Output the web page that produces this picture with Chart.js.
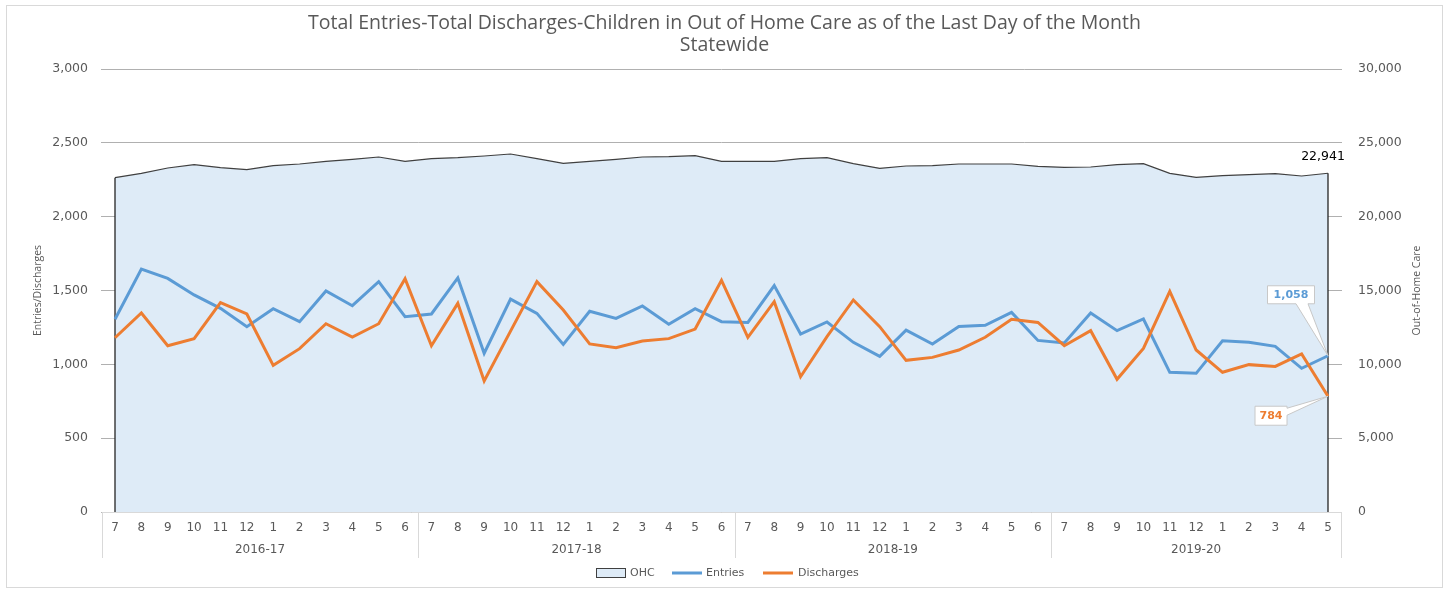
<!DOCTYPE html>
<html>
<head>
<meta charset="utf-8">
<script src="https://cdn.jsdelivr.net/npm/chart.js@4.4.1/dist/chart.umd.min.js"></script>
<style>
    body { margin: 0; background: #fff; }
    canvas { display: block; }
</style>
</head>
<body>
<canvas id="grafico" width="1449" height="590"></canvas>
<script>
// months of each fiscal year (July..June)
const meses = [
    '7', '8', '9', '10', '11', '12', '1', '2', '3', '4', '5', '6',
    '7', '8', '9', '10', '11', '12', '1', '2', '3', '4', '5', '6',
    '7', '8', '9', '10', '11', '12', '1', '2', '3', '4', '5', '6',
    '7', '8', '9', '10', '11', '12', '1', '2', '3', '4', '5'
]
const anos = ['2016-17', '2017-18', '2018-19', '2019-20']
const mesesPorAno = [12, 12, 12, 11]

const entradas = [
    1305, 1645, 1582, 1470, 1379, 1255, 1377, 1289, 1497, 1397, 1560, 1323,
    1341, 1585, 1075, 1442, 1345, 1135, 1359, 1311, 1395, 1271, 1377, 1289,
    1284, 1533, 1205, 1287, 1149, 1054, 1232, 1138, 1257, 1264, 1352, 1162,
    1145, 1348, 1228, 1307, 946, 939, 1160, 1149, 1122, 973, 1058
]
const saidas = [
    1180, 1348, 1126, 1174, 1418, 1341, 993, 1106, 1275, 1185, 1275, 1580,
    1126, 1413, 887, 1225, 1560, 1368, 1138, 1113, 1158, 1174, 1239, 1569,
    1183, 1424, 916, 1187, 1436, 1255, 1027, 1047, 1097, 1183, 1305, 1284,
    1126, 1228, 899, 1108, 1494, 1097, 946, 998, 986, 1070, 784
]
const ohc = [
    22640, 22935, 23295, 23520, 23316, 23180, 23451, 23566, 23749, 23884, 24040, 23749,
    23925, 23996, 24108, 24243, 23925, 23610, 23749, 23884, 24040, 24060, 24130, 23749,
    23749, 23749, 23925, 23996, 23587, 23272, 23431, 23451, 23566, 23566, 23566, 23407,
    23340, 23363, 23520, 23587, 22935, 22660, 22775, 22845, 22910, 22754, 22941
]

const titulo = ['Total Entries-Total Discharges-Children in Out of Home Care as of the Last Day of the Month', 'Statewide']
const tituloEsquerda = 'Entries/Discharges'
const tituloDireita = 'Out-of-Home Care'

const azul = '#5b9bd5'
const laranja = '#ed7d31'
const cinzaTexto = '#595959'
const preenchimento = '#deebf7'
const fonteNumeros = 'DejaVu Sans'
const fonteTexto = 'Open Sans'

function formata(v) {
    return v.toLocaleString('en-US')
}

// white box with a wedge pointing at a point
function balao(ctx, px, py, cx, cy, w, h, lado, texto, cor) {
    let l = cx - w / 2, r = cx + w / 2, t = cy - h / 2, b = cy + h / 2
    ctx.beginPath()
    ctx.moveTo(l, t)
    ctx.lineTo(r, t)
    if (lado === 'direita') {
        ctx.lineTo(r, t + 2)
        ctx.lineTo(px, py)
        ctx.lineTo(r, t + 9)
        ctx.lineTo(r, b)
        ctx.lineTo(l, b)
    } else {
        ctx.lineTo(r, b)
        ctx.lineTo(cx + 17, b)
        ctx.lineTo(px, py)
        ctx.lineTo(cx + 5, b)
        ctx.lineTo(l, b)
    }
    ctx.closePath()
    ctx.fillStyle = '#fff'
    ctx.fill()
    ctx.strokeStyle = '#c8c8c8'
    ctx.lineWidth = 1
    ctx.stroke()
    ctx.fillStyle = cor
    ctx.font = 'bold 11px "' + fonteNumeros + '"'
    ctx.textAlign = 'center'
    ctx.textBaseline = 'middle'
    ctx.fillText(texto, cx, cy + 0.5)
}

const moldura = {
    id: 'moldura',
    beforeDraw(chart) {
        let ctx = chart.ctx
        ctx.save()
        ctx.fillStyle = '#fff'
        ctx.fillRect(0, 0, chart.width, chart.height)
        ctx.strokeStyle = '#d9d9d9'
        ctx.lineWidth = 1
        ctx.strokeRect(6.5, 5.5, 1436, 582)
        ctx.restore()
    },
    afterDatasetDraw(chart, args) {
        // closing edges of the OHC area
        if (args.index !== 0) return
        let ctx = chart.ctx
        let pts = args.meta.data
        let base = chart.scales.y2.getPixelForValue(0)
        ctx.save()
        ctx.strokeStyle = '#262626'
        ctx.lineWidth = 1.3
        ctx.beginPath()
        ctx.moveTo(pts[0].x, pts[0].y)
        ctx.lineTo(pts[0].x, base)
        ctx.moveTo(pts[pts.length - 1].x, pts[pts.length - 1].y)
        ctx.lineTo(pts[pts.length - 1].x, base)
        ctx.stroke()
        ctx.restore()
    },
    afterDraw(chart) {
        let ctx = chart.ctx
        let area = chart.chartArea
        let x = chart.scales.x
        ctx.save()

        // title
        ctx.fillStyle = cinzaTexto
        ctx.font = '19.5px "' + fonteTexto + '"'
        ctx.textAlign = 'center'
        ctx.textBaseline = 'middle'
        ctx.fillText(titulo[0], chart.width / 2, 23)
        ctx.fillText(titulo[1], chart.width / 2, 45)

        // axis titles
        let meio = (area.top + area.bottom) / 2
        ctx.font = '10.5px "' + fonteTexto + '"'
        ctx.save()
        ctx.translate(38, meio)
        ctx.rotate(-Math.PI / 2)
        ctx.fillText(tituloEsquerda, 0, 0)
        ctx.restore()
        ctx.save()
        ctx.translate(1417, meio)
        ctx.rotate(-Math.PI / 2)
        ctx.fillText(tituloDireita, 0, 0)
        ctx.restore()

        // two level category table
        let passo = x.getPixelForValue(1) - x.getPixelForValue(0)
        let inicio = x.getPixelForValue(0) - passo / 2
        let fim = x.getPixelForValue(meses.length - 1) + passo / 2
        ctx.strokeStyle = '#d9d9d9'
        ctx.lineWidth = 1
        ctx.beginPath()
        ctx.moveTo(inicio, area.bottom + 0.5)
        ctx.lineTo(fim, area.bottom + 0.5)
        ctx.stroke()
        let indice = 0
        ctx.font = '12px "' + fonteNumeros + '"'
        ctx.fillStyle = cinzaTexto
        anos.forEach((ano, i) => {
            let a = x.getPixelForValue(indice) - passo / 2
            indice += mesesPorAno[i]
            let b = Math.min(x.getPixelForValue(indice) - passo / 2, fim)
            if (i === anos.length - 1) b = fim
            ctx.beginPath()
            ctx.moveTo(Math.round(a) + 0.5, area.bottom)
            ctx.lineTo(Math.round(a) + 0.5, area.bottom + 46)
            ctx.moveTo(Math.round(b) + 0.5, area.bottom)
            ctx.lineTo(Math.round(b) + 0.5, area.bottom + 46)
            ctx.stroke()
            ctx.fillText(ano, (a + b) / 2, area.bottom + 38)
        })

        // legend
        ctx.font = '11px "' + fonteNumeros + '"'
        ctx.textAlign = 'left'
        ctx.fillStyle = preenchimento
        ctx.fillRect(596.5, 568.5, 29, 9)
        ctx.strokeStyle = '#404040'
        ctx.strokeRect(596.5, 568.5, 29, 9)
        ctx.fillStyle = cinzaTexto
        ctx.fillText('OHC', 630, 573)
        ctx.lineWidth = 3
        ctx.strokeStyle = azul
        ctx.beginPath()
        ctx.moveTo(672, 573)
        ctx.lineTo(702, 573)
        ctx.stroke()
        ctx.fillText('Entries', 706, 573)
        ctx.strokeStyle = laranja
        ctx.beginPath()
        ctx.moveTo(763, 573)
        ctx.lineTo(793, 573)
        ctx.stroke()
        ctx.fillText('Discharges', 798, 573)

        // labels on the last month
        let ultimo = meses.length - 1
        let pOhc = chart.getDatasetMeta(0).data[ultimo]
        let pEnt = chart.getDatasetMeta(1).data[ultimo]
        let pSai = chart.getDatasetMeta(2).data[ultimo]
        ctx.fillStyle = '#000'
        ctx.font = '12.5px "' + fonteNumeros + '"'
        ctx.textAlign = 'center'
        ctx.fillText(formata(ohc[ultimo]), pOhc.x - 5, pOhc.y - 16)
        balao(ctx, pEnt.x, pEnt.y, pEnt.x - 37, pEnt.y - 61, 47, 18, 'baixo', formata(entradas[ultimo]), azul)
        balao(ctx, pSai.x, pSai.y, pSai.x - 57, pSai.y + 19.5, 32, 19, 'direita', formata(saidas[ultimo]), laranja)

        ctx.restore()
    }
}

new Chart(document.getElementById('grafico'), {
    type: 'line',
    data: {
        labels: meses,
        datasets: [{
            label: 'OHC',
            data: ohc,
            yAxisID: 'y2',
            fill: 'origin',
            backgroundColor: preenchimento,
            borderColor: '#404040',
            borderWidth: 1.2,
            pointRadius: 0,
            order: 3
        }, {
            label: 'Entries',
            data: entradas,
            yAxisID: 'y',
            borderColor: azul,
            borderWidth: 3,
            pointRadius: 0,
            fill: false,
            order: 2
        }, {
            label: 'Discharges',
            data: saidas,
            yAxisID: 'y',
            borderColor: laranja,
            borderWidth: 3,
            pointRadius: 0,
            fill: false,
            order: 1
        }]
    },
    options: {
        responsive: false,
        animation: false,
        events: [],
        layout: { padding: { top: 69, left: 0, right: 0, bottom: 0 } },
        plugins: {
            legend: { display: false },
            title: { display: false },
            tooltip: { enabled: false }
        },
        scales: {
            x: {
                offset: false,
                grid: { display: false, drawTicks: false },
                border: { display: false },
                ticks: {
                    autoSkip: false,
                    maxRotation: 0,
                    padding: 9,
                    color: cinzaTexto,
                    font: { family: fonteNumeros, size: 12 }
                },
                afterFit: (s) => { s.height = 78 }
            },
            y: {
                position: 'left',
                min: 0,
                max: 3000,
                grid: { color: '#b0b0b0', tickColor: '#b0b0b0', tickLength: 14 },
                border: { display: false },
                ticks: {
                    stepSize: 500,
                    padding: 13,
                    color: cinzaTexto,
                    font: { family: fonteNumeros, size: 12.5 },
                    callback: (v) => formata(v)
                },
                afterFit: (s) => { s.width = 115 }
            },
            y2: {
                position: 'right',
                min: 0,
                max: 30000,
                grid: { drawOnChartArea: false, tickColor: '#b0b0b0', tickLength: 14 },
                border: { display: false },
                ticks: {
                    stepSize: 5000,
                    padding: 16,
                    color: cinzaTexto,
                    font: { family: fonteNumeros, size: 12.5 },
                    callback: (v) => formata(v)
                },
                afterFit: (s) => { s.width = 121 }
            }
        }
    },
    plugins: [moldura]
})
</script>
</body>
</html>
